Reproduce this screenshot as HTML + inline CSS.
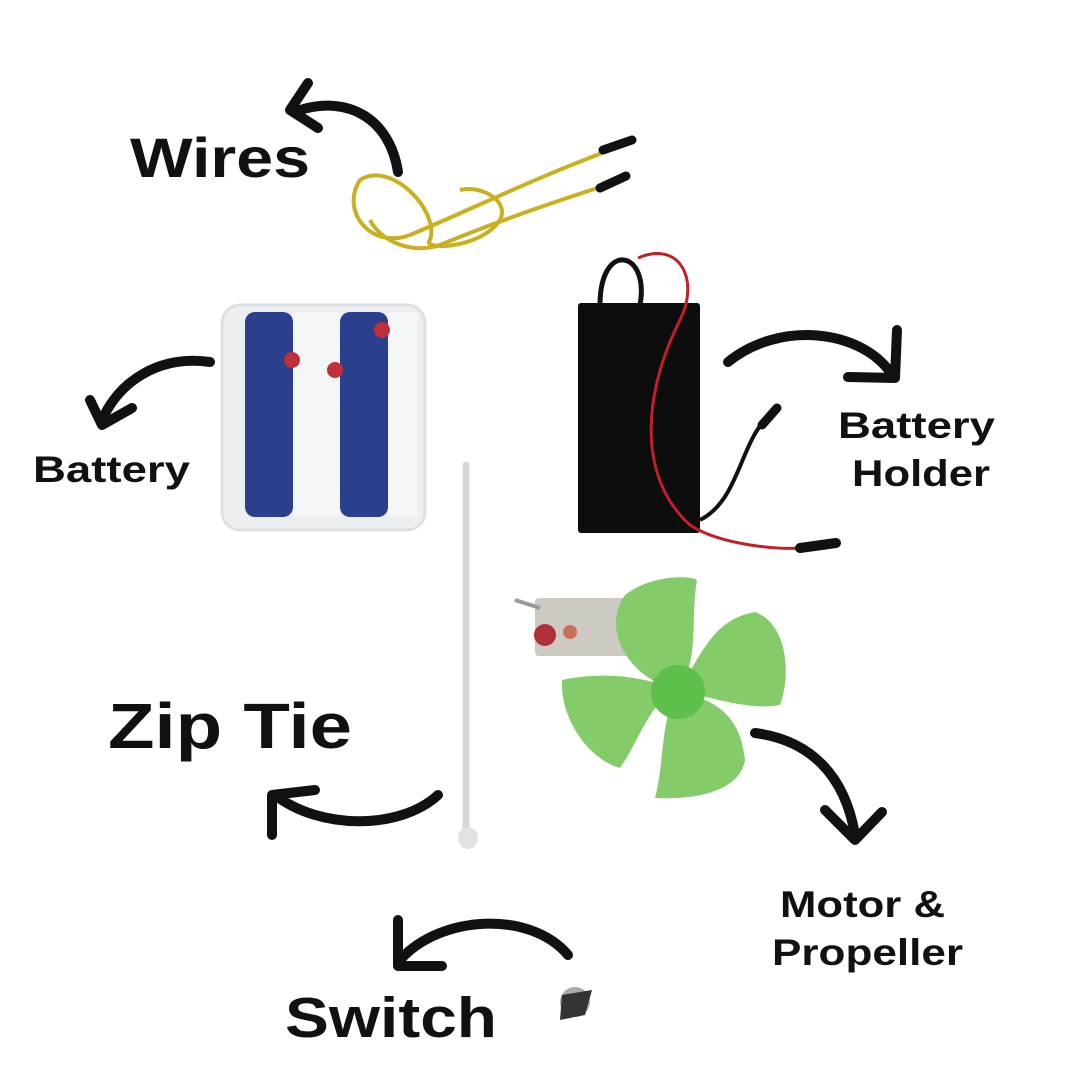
<!DOCTYPE html>
<html><head><meta charset="utf-8"><style>
body{margin:0;width:1080px;height:1080px;background:#fff;overflow:hidden}
svg{display:block}
text{font-family:"Liberation Sans",sans-serif;font-weight:bold;fill:#111}
</style></head><body>
<svg width="1080" height="1080" viewBox="0 0 1080 1080">
<g fill="none" stroke="#111" stroke-width="10" stroke-linecap="round" stroke-linejoin="round">
<path d="M398 172 C390 120 350 95 300 110"/><path d="M308 83 L290 110 L318 128"/>
<path d="M210 362 C160 355 120 380 102 420"/><path d="M90 400 L102 425 L132 408"/>
<path d="M728 362 C780 320 860 330 890 372"/><path d="M848 377 L895 378 L897 330"/>
<path d="M438 795 C400 830 320 830 275 795"/><path d="M272 835 L272 795 L315 790"/>
<path d="M755 733 C810 740 845 775 855 835"/><path d="M825 810 L855 840 L882 812"/>
<path d="M568 955 C530 910 440 915 400 960"/><path d="M398 920 L398 966 L442 966"/>
</g>
<g fill="none" stroke="#c9b020" stroke-width="4">
<path d="M610 150 C530 180 470 210 410 235 C370 250 340 210 360 180 C390 160 440 210 430 240 C420 250 480 250 500 220 C510 200 480 185 460 190"/>
<path d="M622 180 C560 200 500 220 440 245 C410 255 380 240 370 220"/>
</g>
<path d="M603 150 L632 140" stroke="#111" stroke-width="9" stroke-linecap="round"/>
<path d="M600 188 L626 176" stroke="#111" stroke-width="9" stroke-linecap="round"/>
<rect x="222" y="305" width="203" height="225" rx="18" fill="#eceef0" stroke="#dde0e3" stroke-width="3"/>
<rect x="245" y="312" width="48" height="205" rx="10" fill="#2b3f8f"/>
<rect x="340" y="312" width="48" height="205" rx="10" fill="#2b3f8f"/>
<rect x="293" y="312" width="47" height="205" fill="#f4f5f6"/>
<rect x="388" y="312" width="30" height="205" fill="#f4f5f6"/>
<circle cx="292" cy="360" r="8" fill="#c0303a"/><circle cx="335" cy="370" r="8" fill="#c0303a"/><circle cx="382" cy="330" r="8" fill="#c0303a"/>
<path d="M600 305 C600 240 650 250 640 305" fill="none" stroke="#111" stroke-width="5"/>
<rect x="578" y="303" width="122" height="230" rx="3" fill="#0d0d0d"/>
<path d="M638 258 C680 240 700 280 680 320 C640 400 640 480 690 525 C720 545 780 550 800 548" fill="none" stroke="#c0202a" stroke-width="3"/>
<path d="M700 520 C740 500 740 440 770 415" fill="none" stroke="#111" stroke-width="4"/>
<path d="M762 425 L777 408" stroke="#111" stroke-width="9" stroke-linecap="round"/>
<path d="M800 548 L836 543" stroke="#111" stroke-width="10" stroke-linecap="round"/>
<path d="M466 465 L466 835" stroke="#d8d8d4" stroke-width="7" stroke-linecap="round"/>
<ellipse cx="468" cy="838" rx="10" ry="11" fill="#e2e2de"/>
<rect x="535" y="598" width="100" height="58" rx="4" fill="#cdcac4"/>
<path d="M515 600 L540 608" stroke="#999" stroke-width="4"/>
<circle cx="545" cy="635" r="11" fill="#b03038"/><circle cx="570" cy="632" r="7" fill="#c8705a"/>
<g fill="#84cc6a">
<path d="M678 690 C630 680 600 630 625 595 C650 575 690 575 697 580 C690 620 700 660 678 690Z"/>
<path d="M678 690 C700 660 710 620 755 612 C790 625 790 680 780 705 C750 710 720 700 678 690Z"/>
<path d="M678 690 C710 700 740 710 745 760 C740 790 700 800 655 798 C665 760 660 720 678 690Z"/>
<path d="M678 690 C650 700 640 740 620 768 C590 760 560 720 562 680 C600 672 640 675 678 690Z"/>
</g>
<circle cx="678" cy="692" r="27" fill="#5cc04a"/>
<circle cx="575" cy="1002" r="15" fill="#aaa"/><path d="M562 995 L592 990 L585 1015 L560 1020Z" fill="#333"/>
<text x="130" y="177" font-size="56" textLength="180" lengthAdjust="spacingAndGlyphs">Wires</text>
<text x="33" y="482" font-size="37" textLength="157" lengthAdjust="spacingAndGlyphs">Battery</text>
<text x="838" y="438" font-size="37" textLength="157" lengthAdjust="spacingAndGlyphs">Battery</text>
<text x="852" y="486" font-size="37" textLength="138" lengthAdjust="spacingAndGlyphs">Holder</text>
<text x="108" y="748" font-size="64" textLength="244" lengthAdjust="spacingAndGlyphs">Zip Tie</text>
<text x="780" y="917" font-size="37" textLength="165" lengthAdjust="spacingAndGlyphs">Motor &amp;</text>
<text x="772" y="965" font-size="37" textLength="191" lengthAdjust="spacingAndGlyphs">Propeller</text>
<text x="285" y="1037" font-size="57" textLength="212" lengthAdjust="spacingAndGlyphs">Switch</text>
</svg>
</body></html>
